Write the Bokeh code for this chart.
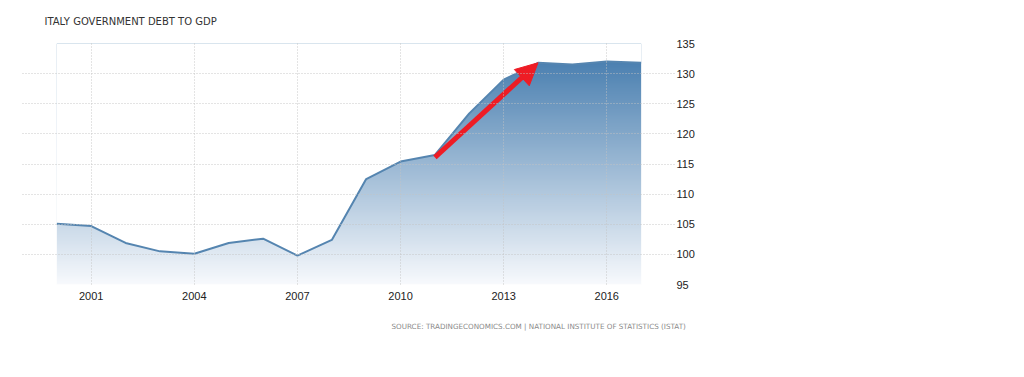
import numpy as np
from bokeh.plotting import figure
from bokeh.models import (Range1d, FixedTicker, Title, Arrow, NormalHead,
                          ColumnDataSource)
from bokeh.embed import file_html
from bokeh.resources import INLINE

# ---- data ----
years = [2000, 2001, 2002, 2003, 2004, 2005, 2006, 2007, 2008,
         2009, 2010, 2011, 2012, 2013, 2014, 2015, 2016, 2017]
debt = [105.1, 104.7, 101.9, 100.5, 100.1, 101.9, 102.6, 99.8, 102.4,
        112.5, 115.4, 116.5, 123.4, 129.0, 131.8, 131.5, 132.0, 131.8]
x_ticks = [2001, 2004, 2007, 2010, 2013, 2016]
y_ticks = [95, 100, 105, 110, 115, 120, 125, 130, 135]
title_text = "ITALY GOVERNMENT DEBT TO GDP"
source_text = "SOURCE: TRADINGECONOMICS.COM  |  NATIONAL INSTITUTE OF STATISTICS (ISTAT)"
arrow_from_year, arrow_to_year = 2011, 2014

Y0, Y1 = 95, 135

p = figure(frame_width=653, frame_height=241, output_backend="svg",
           toolbar_location=None, x_range=Range1d(1999, 2018),
           y_range=Range1d(Y0, Y1), y_axis_location="right",
           min_border_left=22, min_border_right=333,
           min_border_top=43, min_border_bottom=72)
p.outline_line_color = None
p.background_fill_color = "white"
p.border_fill_color = "white"

# title
p.title.text = title_text
p.title.text_font = "DejaVu Sans"
p.title.text_font_size = "10px"
p.title.text_font_style = "normal"
p.title.text_color = "#333333"
p.title.align = "left"
p.title.vertical_align = "top"
p.title.offset = 22
p.title.standoff = 29

# gradient fill (image) under the line, masked above the series
n = 256
top = np.array([0x3e, 0x77, 0xab], dtype=float)
bot = np.array([0xf8, 0xfa, 0xfd], dtype=float)
t = np.linspace(0, 1, n)[:, None]  # 0 = bottom row
cols = bot * (1 - t) + top * t
img = np.zeros((n, 2), dtype=np.uint32)
view = img.view(dtype=np.uint8).reshape((n, 2, 4))
for j in range(2):
    view[:, j, 0] = cols[:, 0].astype(np.uint8)
    view[:, j, 1] = cols[:, 1].astype(np.uint8)
    view[:, j, 2] = cols[:, 2].astype(np.uint8)
    view[:, j, 3] = 255
p.image_rgba(image=[img], x=years[0], y=Y0, dw=years[-1] - years[0], dh=Y1 - Y0)

src = ColumnDataSource(dict(x=years, y=debt, top=[Y1] * len(years)))
p.varea(x="x", y1="y", y2="top", source=src, fill_color="white")
p.line(x="x", y="y", source=src, line_color="#5585b0", line_width=2)

# grids on top
for g in (p.xgrid, p.ygrid):
    g.grid_line_color = "#c4c4c4"
    g.grid_line_dash = "1 2"
    g.grid_line_width = 1
    g.grid_line_alpha = 0.9
    g.level = "overlay"
p.xgrid.ticker = FixedTicker(ticks=x_ticks)
p.ygrid.ticker = FixedTicker(ticks=y_ticks)

# axes
xa = p.xaxis[0]
xa.ticker = FixedTicker(ticks=x_ticks)
ya = p.yaxis[0]
ya.ticker = FixedTicker(ticks=y_ticks)
for ax in (xa, ya):
    ax.axis_line_color = None
    ax.major_tick_line_color = None
    ax.minor_tick_line_color = None
    ax.major_label_text_font = "Liberation Sans"
    ax.major_label_text_font_size = "11px"
    ax.major_label_text_color = "#222222"
xa.major_label_standoff = 1
ya.major_label_standoff = -5

# red arrow
i0 = years.index(arrow_from_year)
i1 = years.index(arrow_to_year)
p.add_layout(Arrow(x_start=years[i0], y_start=debt[i0] - 0.4,
                   x_end=years[i1], y_end=debt[i1],
                   line_color="#ee1c25", line_width=5,
                   end=NormalHead(size=22, fill_color="#ee1c25",
                                  line_color="#ee1c25")))

# source note
p.add_layout(Title(text=source_text, text_font="DejaVu Sans",
                   text_font_size="7.2px", text_font_style="normal",
                   text_color="#8a8a8a", align="left", offset=369,
                   standoff=35), "below")

open("out.html", "w").write(file_html(p, INLINE))
